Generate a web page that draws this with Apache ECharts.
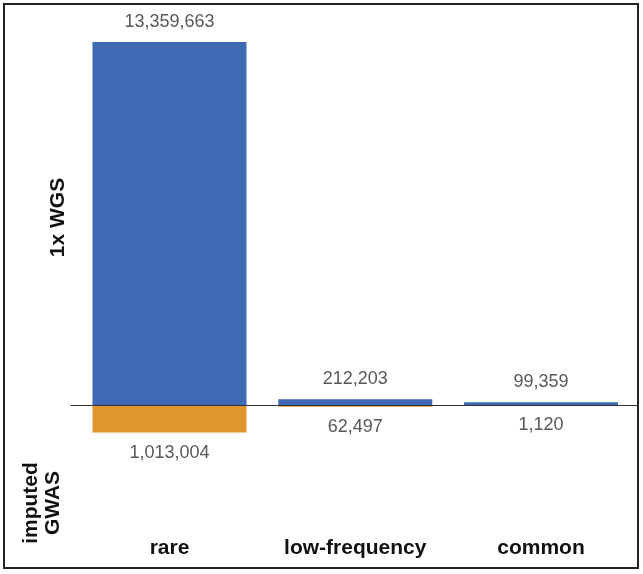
<!DOCTYPE html>
<html><head><meta charset="utf-8">
<script src="https://cdn.jsdelivr.net/npm/echarts@6/dist/echarts.min.js"></script>
<style>html,body{margin:0;padding:0;background:#fff}#c{width:643px;height:574px}</style>
</head><body><div id="c"></div>
<script>
const categories = ['rare', 'low-frequency', 'common'];
const wgsValues = [13359663, 212203, 99359];
const gwasValues = [1013004, 62497, 1120];

const FONT = 'Liberation Sans, Arial, Helvetica, sans-serif';
const fmt = v => Math.abs(v).toLocaleString('en-US');
const chart = echarts.init(document.getElementById('c'));
chart.setOption({
  animation: false,
  grid: [
    { left: 76.6, right: 9.1, top: 24.6, bottom: 33.1 },
    { left: 71, right: 6, top: 24.6, bottom: 33.1 }
  ],
  xAxis: [
    {
      type: 'category', data: categories, gridIndex: 0,
      axisLine: { show: false, onZero: false }, axisTick: { show: false },
      axisLabel: { margin: -3, color: '#111', fontSize: 21, fontWeight: 'bold', fontFamily: FONT }
    },
    {
      type: 'value', gridIndex: 1, min: 0, max: 1, z: 10,
      axisLine: { show: true, onZero: true, lineStyle: { color: '#333', width: 1 } },
      axisTick: { show: false }, axisLabel: { show: false }, splitLine: { show: false }
    }
  ],
  yAxis: [
    { type: 'value', gridIndex: 0, min: -5000000, max: 14000000, show: false, splitLine: { show: false } },
    { type: 'value', gridIndex: 1, min: -5000000, max: 14000000, axisLine: { show: false }, axisTick: { show: false }, axisLabel: { show: false }, splitLine: { show: false } }
  ],
  graphic: [
    { type: 'rect', shape: { x: 4, y: 4, width: 634, height: 564 }, style: { fill: 'none', stroke: '#222', lineWidth: 2 } },
    { type: 'text', x: 58.5, y: 217.5, rotation: Math.PI / 2, style: { text: '1x WGS', fill: '#111', font: 'bold 21px ' + FONT, align: 'center', verticalAlign: 'middle' } },
    { type: 'text', x: 42.5, y: 503, rotation: Math.PI / 2, style: { text: 'imputed\nGWAS', fill: '#111', font: 'bold 21px ' + FONT, align: 'center', verticalAlign: 'middle', lineHeight: 22 } }
  ],
  series: [
    {
      type: 'bar', stack: 's', barWidth: 154, data: wgsValues, z: 2,
      itemStyle: { color: '#3e6ab3' },
      label: { show: true, position: 'top', distance: 11, formatter: p => fmt(p.value), color: '#585858', fontSize: 18, fontFamily: FONT }
    },
    {
      type: 'bar', stack: 's', barWidth: 154, z: 2,
      data: gwasValues.map(v => -v),
      itemStyle: { color: '#e0952d' },
      label: { show: true, position: 'bottom', distance: 11, formatter: p => fmt(p.value), color: '#585858', fontSize: 18, fontFamily: FONT }
    }
  ]
});
</script></body></html>
